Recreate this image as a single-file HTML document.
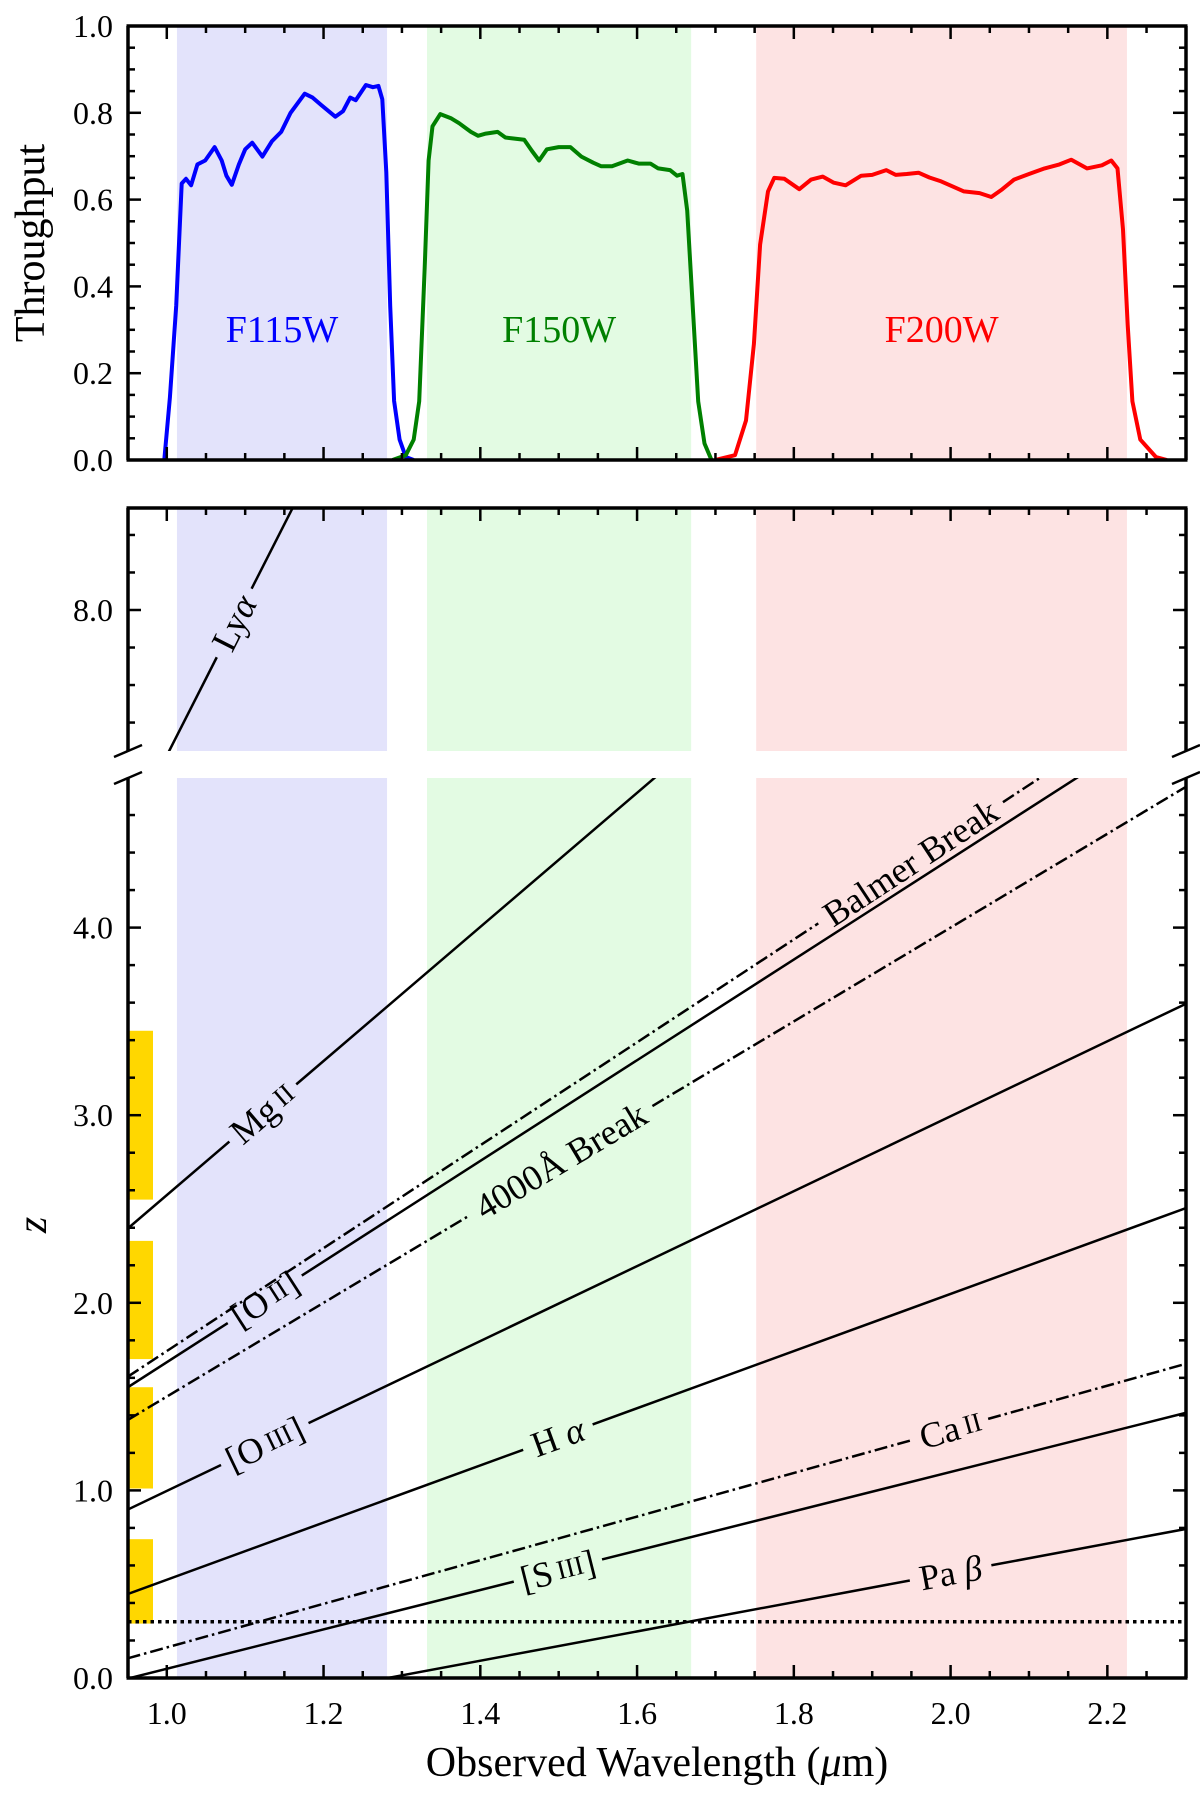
<!DOCTYPE html>
<html><head><meta charset="utf-8"><style>
body{margin:0;background:#fff}
svg{display:block}
text{font-family:"Liberation Serif",serif;fill:#000}
</style></head><body>
<svg id="chart" width="1200" height="1796" viewBox="0 0 1200 1796" xmlns="http://www.w3.org/2000/svg">
<defs>
<clipPath id="clipTop"><rect x="128" y="26" width="1058" height="434"/></clipPath>
<clipPath id="clipMid"><rect x="128" y="508" width="1058" height="243"/></clipPath>
<clipPath id="clipBot"><rect x="128" y="778" width="1058" height="900"/></clipPath>
</defs>
<g id="layer"></g>
</svg>
<script>
// ---- data ----
const filterNames = ["F115W","F150W","F200W"];
const filterColors = ["#0000ff","#008000","#ff0000"];
const filterShade = ["#e3e3fb","#e3fbe3","#fde3e3"];
const bandLo = [1.013, 1.332, 1.752];
const bandHi = [1.281, 1.669, 2.225];
const blueWave = [0.997,1.004,1.012,1.019,1.0245,1.031,1.039,1.049,1.061,1.070,1.076,1.083,1.092,1.100,1.109,1.122,1.134,1.146,1.158,1.176,1.186,1.197,1.215,1.225,1.234,1.241,1.254,1.263,1.270,1.275,1.280,1.285,1.290,1.297,1.305,1.315];
const blueThru = [0.003,0.144,0.355,0.637,0.648,0.633,0.681,0.690,0.721,0.690,0.655,0.634,0.681,0.716,0.731,0.699,0.734,0.756,0.800,0.844,0.835,0.818,0.791,0.804,0.835,0.829,0.864,0.859,0.862,0.831,0.663,0.355,0.136,0.047,0.007,0];
const greenWave = [1.288,1.305,1.315,1.322,1.329,1.334,1.339,1.349,1.363,1.373,1.388,1.397,1.407,1.422,1.432,1.441,1.456,1.466,1.475,1.485,1.500,1.515,1.529,1.544,1.554,1.568,1.588,1.602,1.617,1.627,1.642,1.651,1.658,1.664,1.671,1.678,1.686,1.695];
const greenThru = [0,0.011,0.047,0.135,0.443,0.690,0.769,0.797,0.787,0.776,0.756,0.747,0.752,0.756,0.743,0.741,0.738,0.712,0.690,0.716,0.721,0.721,0.699,0.685,0.677,0.677,0.690,0.683,0.683,0.672,0.668,0.655,0.659,0.575,0.355,0.135,0.038,0];
const redWave = [1.700,1.725,1.739,1.749,1.757,1.767,1.775,1.788,1.807,1.822,1.837,1.851,1.866,1.886,1.900,1.918,1.930,1.944,1.959,1.973,1.988,2.003,2.017,2.037,2.052,2.066,2.081,2.100,2.120,2.139,2.154,2.174,2.193,2.205,2.213,2.220,2.226,2.232,2.242,2.262,2.276];
const redThru = [0,0.011,0.091,0.267,0.496,0.619,0.650,0.648,0.624,0.646,0.653,0.639,0.633,0.655,0.657,0.668,0.657,0.659,0.662,0.651,0.642,0.630,0.619,0.615,0.606,0.624,0.646,0.659,0.672,0.681,0.692,0.672,0.679,0.690,0.672,0.531,0.311,0.135,0.047,0.007,0];
const lineNames = ["Lyα","Mg II","Balmer Break","[O II]","4000Å Break","[O III]","Hα","Ca II","[S III]","Paβ"];
const lineRest = [0.1216,0.2798,0.3646,0.3727,0.4000,0.5007,0.6563,0.8600,0.9531,1.2818];
const lineDash = [false,false,true,false,true,false,false,true,false,false];
const lineLabelWave = [1.086,1.1225,1.949,1.125,1.503,1.125,1.499,2.0,1.499,2.0];
const yellowLo = [0.29,1.01,1.70,2.55];
const yellowHi = [0.74,1.55,2.33,3.45];
const dottedZ = 0.30;
const xTicks = [1.0,1.2,1.4,1.6,1.8,2.0,2.2];
const topTicks = [0.0,0.2,0.4,0.6,0.8,1.0];
const botTicks = [0.0,1.0,2.0,3.0,4.0];
const midTicks = [8.0];

// ---- scales ----
const X0=128, X1=1186;
const xs = l => 127.6 + (l-0.95)*783.8;
const yTop = t => 460 - t*434;
const yBot = z => 1678 - z*187.6;
const yMid = z => 610 - (z-8)*187.6;
const NS="http://www.w3.org/2000/svg";
const layer=document.getElementById('layer');
function mk(tag,attrs,parent){const e=document.createElementNS(NS,tag);for(const k in attrs)e.setAttribute(k,attrs[k]);(parent||layer).appendChild(e);return e;}

// shading
const panels=[[26,460],[508,751],[778,1678]];
panels.forEach((p,pi)=>{
  bandLo.forEach((lo,i)=>{
    const r=mk('rect',{x:xs(lo),y:p[0],width:xs(bandHi[i])-xs(lo),height:p[1]-p[0],fill:filterShade[i]});
    
    
  });
});

// throughput curves
const waves=[blueWave,greenWave,redWave], thrus=[blueThru,greenThru,redThru];
waves.forEach((w,i)=>{
  const d=w.map((l,j)=>(j?'L':'M')+xs(l).toFixed(1)+','+yTop(thrus[i][j]).toFixed(1)).join('');
  const p=mk('path',{d:d,fill:'none',stroke:filterColors[i],'stroke-width':4,'stroke-linejoin':'round','clip-path':'url(#clipTop)'});
  
  
  const cx=(xs(bandLo[i])+xs(bandHi[i]))/2;
  const t=mk('text',{x:cx,y:yTop(0.3)+12,'font-size':38,'text-anchor':'middle',fill:filterColors[i]});
  t.style.fill=filterColors[i];
  t.textContent=filterNames[i];
  
  
});

// yellow bars
yellowLo.forEach((lo,i)=>{
  const r=mk('rect',{x:129,y:yBot(yellowHi[i]),width:24,height:yBot(lo)-yBot(yellowHi[i]),fill:'#ffd700'});
  
  
});

// dotted line
const dl=mk('line',{x1:X0,x2:X1,y1:yBot(dottedZ),y2:yBot(dottedZ),stroke:'#000','stroke-width':3.5,'stroke-dasharray':'3.5,4'});



// emission lines
function labelTSpans(t,name){
  const m={"Mg II":["Mg","II"],"[O II]":["[O","II]"],"[O III]":["[O","III]"],"Ca II":["Ca","II"],"[S III]":["[S","III]"]};
  if(m[name]){const a=mk('tspan',{},t);a.textContent=m[name][0];const b=mk('tspan',{'font-size':27,dx:5},t);b.textContent=m[name][1].replace(']','');if(m[name][1].endsWith(']')){const c=mk('tspan',{'font-size':36},t);c.textContent=']';}}
  else if(name==="Lyα"){const a=mk('tspan',{},t);a.textContent="Ly";const b=mk('tspan',{'font-style':'italic'},t);b.textContent="α";}
  else if(name==="Hα"){const a=mk('tspan',{},t);a.textContent="H ";const b=mk('tspan',{'font-style':'italic'},t);b.textContent="α";}
  else if(name==="Paβ"){const a=mk('tspan',{},t);a.textContent="Pa ";const b=mk('tspan',{'font-style':'italic'},t);b.textContent="β";}
  else t.textContent=name;
}
lineNames.forEach((name,i)=>{
  const r=lineRest[i];
  const mid = (i===0);
  const ys = mid?yMid:yBot;
  const clip = mid?'url(#clipMid)':'url(#clipBot)';
  const zf = l => l/r-1;
  const xa=xs(0.95), ya=ys(zf(0.95)), xb=xs(2.3), yb=ys(zf(2.3));
  const lc=lineLabelWave[i], xc=xs(lc), yc=ys(zf(lc));
  const dx=xb-xa, dy=yb-ya, L=Math.hypot(dx,dy), ux=dx/L, uy=dy/L;
  const ang=Math.atan2(dy,dx)*180/Math.PI;
  const g=mk('g',{'clip-path':clip});
  
  
  const t=mk('text',{x:0,y:0,'font-size':36,'text-anchor':'middle','dominant-baseline':'central',transform:`translate(${xc},${yc}) rotate(${ang})`});
  labelTSpans(t,name);
  
  
  let w=name.length*17;
  try{w=t.getComputedTextLength();}catch(e){}
  const half=w/2+10;
  const attrs={stroke:'#000','stroke-width':2.5,fill:'none'};
  if(lineDash[i]) attrs['stroke-dasharray']='13,4,2.5,4';
  const s1=mk('line',Object.assign({x1:xa,y1:ya,x2:xc-ux*half,y2:yc-uy*half},attrs),g);
  
  
  const s2=mk('line',Object.assign({x1:xc+ux*half,y1:yc+uy*half,x2:xb,y2:yb},attrs),g);
  
  
  layer.appendChild(t);
});

// axes frames & ticks
function frame(top,bot,drawTop,drawBot,name){
  const g=mk('g',{stroke:'#000','stroke-width':3.5,fill:'none'});
  
  
  mk('line',{x1:X0,x2:X0,y1:top,y2:bot},g);
  mk('line',{x1:X1,x2:X1,y1:top,y2:bot},g);
  if(drawTop) mk('line',{x1:X0-1.5,x2:X1+1.5,y1:top,y2:top},g);
  if(drawBot) mk('line',{x1:X0-1.5,x2:X1+1.5,y1:bot,y2:bot},g);
  const tg=mk('g',{stroke:'#000','stroke-width':2.5});
  for(let k=0;k<=27;k++){const l=0.95+k*0.05;const x=xs(l);if(x<X0+3||x>X1-3)continue;
    const major=Math.abs((l*10)%2)<0.01||Math.abs((l*10)%2-2)<0.01;const len=major?13:7;
    if(drawTop) mk('line',{x1:x,x2:x,y1:top,y2:top+len},tg);
    if(drawBot) mk('line',{x1:x,x2:x,y1:bot,y2:bot-len},tg);}
  return tg;
}
let tg=frame(26,460,true,true,'throughput-axes');
for(let k=0;k<=20;k++){const v=k*0.05,y=yTop(v),len=(k%4===0)?13:7;if(k%4===0&&(k===0||k===20))continue;
  mk('line',{x1:X0,x2:X0+len,y1:y,y2:y},tg);mk('line',{x1:X1,x2:X1-len,y1:y,y2:y},tg);}
tg=frame(508,751,true,false,'high-z-axes');
for(let z=7.4;z<8.55;z+=0.2){const y=yMid(z),len=Math.abs(z-8)<0.01?13:7;
  mk('line',{x1:X0,x2:X0+len,y1:y,y2:y},tg);mk('line',{x1:X1,x2:X1-len,y1:y,y2:y},tg);}
tg=frame(778,1678,false,true,'redshift-axes');
for(let k=1;k<=23;k++){const z=k*0.2,y=yBot(z),len=(k%5===0)?13:7;
  mk('line',{x1:X0,x2:X0+len,y1:y,y2:y},tg);mk('line',{x1:X1,x2:X1-len,y1:y,y2:y},tg);}
// break marks
[[X0,751],[X0,778],[X1,751],[X1,778]].forEach(p=>{
  const b=mk('line',{x1:p[0]-14,y1:p[1]+6,x2:p[0]+14,y2:p[1]-6,stroke:'#000','stroke-width':2.5});
  
  
});

// tick labels
xTicks.forEach(v=>{const t=mk('text',{x:xs(v),y:1724,'font-size':32,'text-anchor':'middle'});t.textContent=v.toFixed(1);
  });
topTicks.forEach(v=>{const t=mk('text',{x:113,y:yTop(v)+11,'font-size':32,'text-anchor':'end'});t.textContent=v.toFixed(1);
  });
botTicks.forEach(v=>{const t=mk('text',{x:113,y:yBot(v)+11,'font-size':32,'text-anchor':'end'});t.textContent=v.toFixed(1);
  });
midTicks.forEach(v=>{const t=mk('text',{x:113,y:yMid(v)+11,'font-size':32,'text-anchor':'end'});t.textContent=v.toFixed(1);
  });

// axis titles
let t=mk('text',{x:0,y:0,'font-size':42,'text-anchor':'middle',transform:'translate(44,243) rotate(-90)'});t.textContent='Throughput';

t=mk('text',{x:0,y:0,'font-size':42,'font-style':'italic','text-anchor':'middle',transform:'translate(46,1225) rotate(-90)'});t.textContent='z';

t=mk('text',{x:657,y:1776,'font-size':42,'text-anchor':'middle'});
const a=mk('tspan',{},t);a.textContent='Observed Wavelength (';const b=mk('tspan',{'font-style':'italic'},t);b.textContent='μ';const c=mk('tspan',{},t);c.textContent='m)';

</script>
</body></html>
